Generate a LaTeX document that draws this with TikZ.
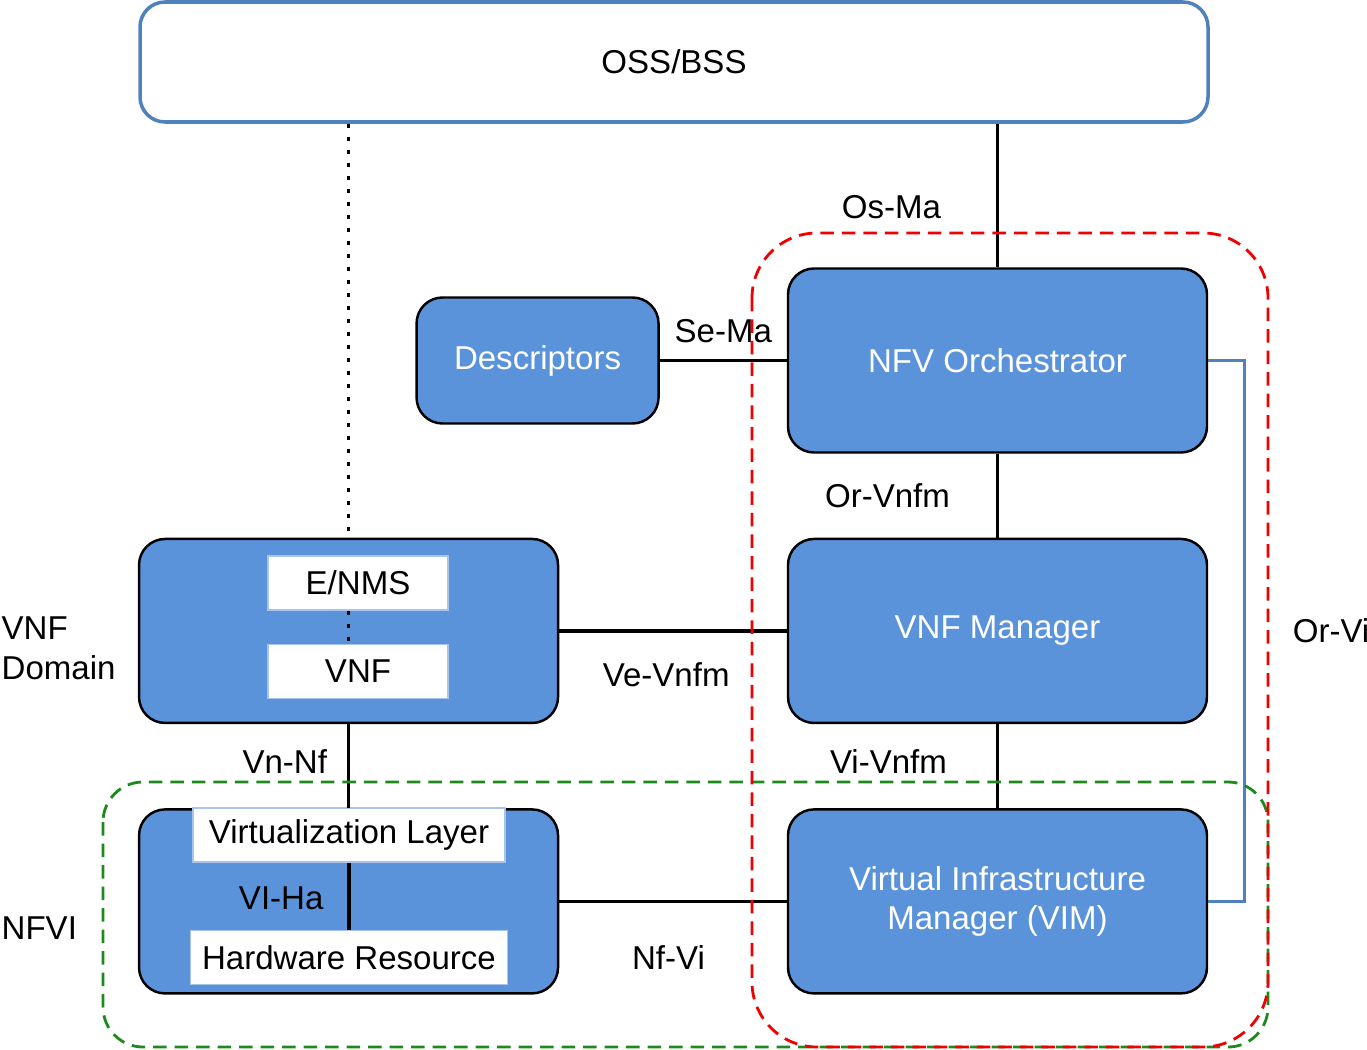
\documentclass[tikz,border=0pt]{standalone}
\usepackage{fontspec}
\setmainfont{Liberation Sans}
\usetikzlibrary{positioning}
\definecolor{boxblue}{HTML}{5B93DB}
\definecolor{edgeblue}{HTML}{4F81BD}
\definecolor{paleblue}{HTML}{A9C4EB}
\definecolor{dashred}{HTML}{F00000}
\definecolor{dashgreen}{HTML}{1E8A1E}

\begin{document}
\begin{tikzpicture}[x=0.1mm,y=-0.1mm,
  every node/.style={font=\fontsize{9.4pt}{11.3pt}\selectfont},
  blk/.style={draw=black,line width=0.7pt,fill=boxblue,rounded corners=2.6mm,text=white,align=center,minimum width=41.9mm,minimum height=18.4mm},
  sub/.style={draw=paleblue,line width=0.4pt,fill=white,minimum height=5.4mm},
  link/.style={line width=0.9pt},
  dotline/.style={line width=1.1pt,dash pattern=on 0.4mm off 0.9mm},
  lbl/.style={inner sep=0pt,text=black},
  zone/.style={dash pattern=on 1.35mm off 0.8mm,line width=0.8pt},
  node distance=8.4mm]
\useasboundingbox (0,0) rectangle (1367,1050);
% management side
\node[draw=edgeblue,line width=1pt,fill=white,rounded corners=2.5mm,minimum width=106.8mm,minimum height=12mm] (oss) at (674,62) {OSS/BSS};
\node[blk] (nfvo) at (997.5,360.5) {NFV Orchestrator};
\node[blk,below=of nfvo] (vnfm) {VNF Manager};
\node[blk,below=of vnfm] (vim) {Virtual Infrastructure\\Manager (VIM)};
\node[blk,minimum width=24.2mm,minimum height=12.6mm,left=12.7mm of nfvo] (desc) {Descriptors};
% VNF domain and NFVI
\node[blk,left=22.75mm of vnfm] (dom) {};
\node[blk,below=of dom] (nfvi) {};
\node[sub,minimum width=18mm] (enms) at (358,583) {E/NMS};
\node[sub,minimum width=18mm] (vnf) at (358,671.5) {VNF};
\node[sub,minimum width=31.2mm] (virt) at (349,835) {Virtualization Layer};
\node[sub,minimum width=31.2mm] (hw) at (349,957.5) {Hardware Resource};
\node[lbl,anchor=west,align=left] (domlbl) at (1,648) {VNF\\Domain};
\node[lbl,anchor=west] (nfvilbl) at (1,928) {NFVI};
% reference points
\draw[link] (oss.south -| nfvo) -- node[lbl,pos=0.58,left=5.5mm]{Os-Ma} (nfvo);
\draw[link] (desc) -- node[lbl,above=1.6mm]{Se-Ma} (nfvo);
\draw[link] (nfvo) -- node[lbl,left=4.6mm]{Or-Vnfm} (vnfm);
\draw[link] (vnfm) -- node[lbl,pos=0.45,left=4.9mm]{Vi-Vnfm} (vim);
\draw[link] (dom) -- node[lbl,pos=0.47,below=3mm]{Ve-Vnfm} (vnfm);
\draw[link] (nfvi) -- node[lbl,pos=0.48,below=4.3mm]{Nf-Vi} (vim);
\draw[link] (dom) -- node[lbl,pos=0.45,left=2mm]{Vn-Nf} (nfvi);
\draw[link] (virt) -- node[lbl,pos=0.53,left=2.4mm]{VI-Ha} (hw);
\draw[link,draw=edgeblue] (nfvo.east) -- ++(36,0) |- node[lbl,pos=0.25,right=4.7mm]{Or-Vi} (vim.east);
\draw[dotline] (oss.south -| dom) -- (dom.north);
\draw[dotline] (enms.south -| dom) -- (vnf.north -| dom);
% MANO and NFVI zones
\draw[zone,draw=dashgreen,rounded corners=4mm] (103,782) rectangle (1268,1047);
\draw[zone,draw=dashred,rounded corners=6.5mm] (752,233) rectangle (1268,1047);
\end{tikzpicture}
\end{document}
